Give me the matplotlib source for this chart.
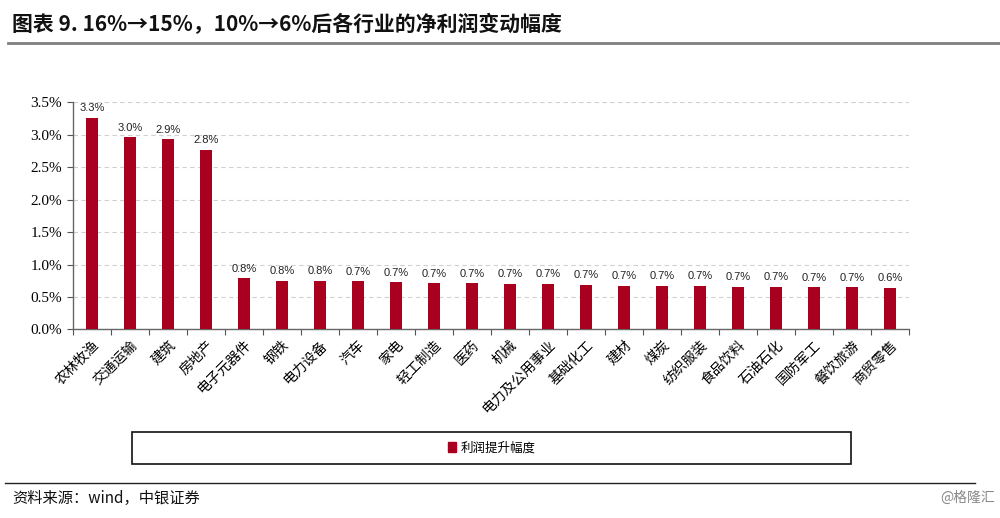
import numpy as np
import matplotlib
matplotlib.use("Agg")
import matplotlib.pyplot as plt
from matplotlib.patches import Rectangle, Patch
from matplotlib.lines import Line2D

plt.rcParams['font.family'] = ['Noto Sans CJK SC', 'DejaVu Sans']

industries = ['农林牧渔', '交通运输', '建筑', '房地产', '电子元器件', '钢铁', '电力设备',
              '汽车', '家电', '轻工制造', '医药', '机械', '电力及公用事业', '基础化工',
              '建材', '煤炭', '纺织服装', '食品饮料', '石油石化', '国防军工', '餐饮旅游',
              '商贸零售']
profit_rise = [3.26, 2.96, 2.93, 2.77, 0.79, 0.75, 0.75, 0.74, 0.73, 0.71, 0.71,
               0.70, 0.70, 0.69, 0.67, 0.67, 0.67, 0.66, 0.66, 0.65, 0.65, 0.64]
yticks = [0.0, 0.5, 1.0, 1.5, 2.0, 2.5, 3.0, 3.5]
series_name = '利润提升幅度'
bar_color = '#A8001E'

fig = plt.figure(figsize=(10, 5.18), dpi=100)
ax = fig.add_axes([0.073, 0.364, 0.836, 0.4386])

x = np.arange(len(industries))
ax.bar(x, profit_rise, width=0.31, color=bar_color, zorder=3)
for xi, v in zip(x, profit_rise):
    ax.text(xi, v + 0.07, f'{v:.1f}%', ha='center', va='bottom', fontsize=8,
            family='Liberation Sans', color='#222222')

ax.set_xlim(-0.5, len(industries) - 0.5)
ax.set_ylim(0, 3.5)
ax.set_yticks(yticks)
ax.set_yticklabels([f'{t:.1f}%' for t in yticks], family='Liberation Serif', fontsize=11)
ax.yaxis.grid(True, linestyle=(0, (4, 3)), color='#d0d0d0', linewidth=0.8, zorder=0)

ax.set_xticks(np.arange(-0.5, len(industries), 1.0), minor=False)
ax.set_xticklabels([])
ax.set_xticks(x, minor=True)
ax.set_xticklabels(industries, minor=True, rotation=45, ha='right', rotation_mode='anchor',
                   fontsize=10)
ax.tick_params(axis='x', which='minor', length=0, pad=6)
ax.tick_params(axis='x', which='major', length=4, color='#555555', direction='out')
ax.tick_params(axis='y', length=4, color='#555555', pad=4)

for s in ['top', 'right']:
    ax.spines[s].set_visible(False)
for s in ['left', 'bottom']:
    ax.spines[s].set_color('#666666')
    ax.spines[s].set_linewidth(1.0)

# title and header rule
fig.text(0.012, 1 - 24 / 518, '图表 9. 16%→15%，10%→6%后各行业的净利润变动幅度',
         fontsize=15, fontweight='bold', va='center', ha='left', color='#111111')
fig.add_artist(Line2D([0.008, 1.0], [1 - 43 / 518, 1 - 43 / 518], color='#808080',
                      linewidth=2, transform=fig.transFigure))

# legend box
fig.add_artist(Rectangle((132 / 1000, 1 - 464 / 518), 719 / 1000, 32 / 518,
                         transform=fig.transFigure, fill=False, edgecolor='#111111',
                         linewidth=1.2))
fig.legend(handles=[Patch(color=bar_color, label=series_name)], loc='center',
           bbox_to_anchor=(0.492, 1 - 448 / 518), frameon=False, fontsize=9,
           handlelength=0.6, handleheight=0.8, handletextpad=0.4)

# footer
fig.add_artist(Line2D([0.005, 0.975], [1 - 483 / 518, 1 - 483 / 518], color='#222222',
                      linewidth=1.0, transform=fig.transFigure))
fig.text(0.012, 1 - 498 / 518, '资料来源：wind，中银证券', fontsize=11, va='center',
         ha='left', color='#111111', style='italic')
fig.text(0.995, 1 - 498 / 518, '@格隆汇', fontsize=10, va='center', ha='right',
         color='#888888')

fig.savefig('out.png', dpi=100)
